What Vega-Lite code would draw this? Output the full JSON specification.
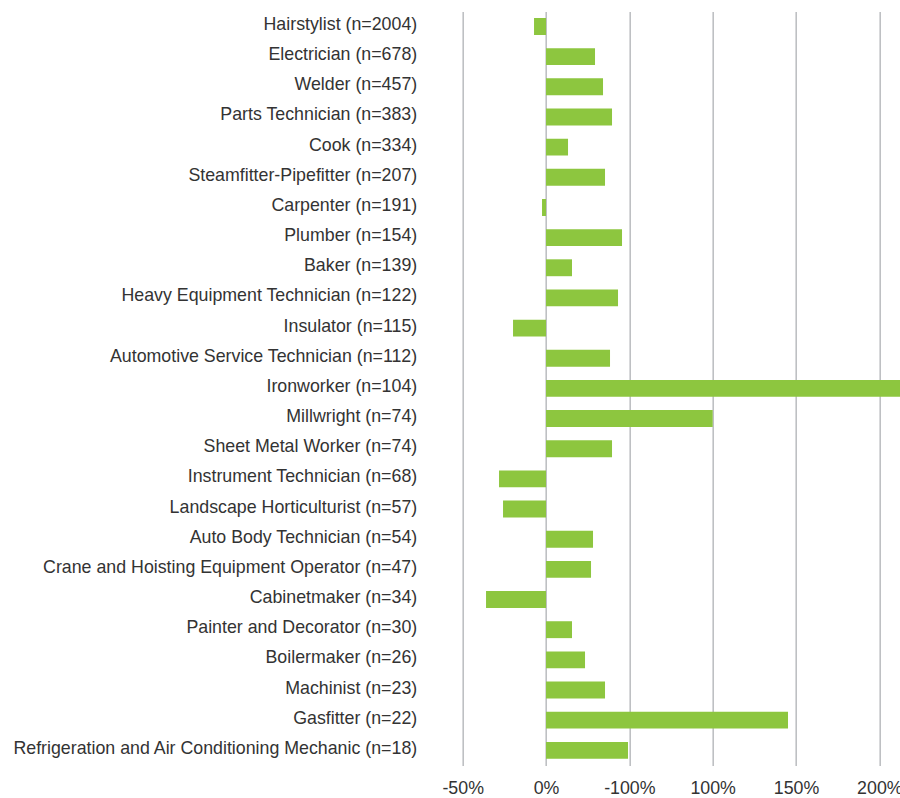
{
  "$schema": "https://vega.github.io/schema/vega-lite/v6.json",
  "width": 437.3,
  "height": 754,
  "autosize": {"type": "none"},
  "padding": {"left": 462.7, "top": 11.4, "right": 0, "bottom": 32.6},
  "background": "white",
  "config": {"view": {"stroke": null}},
  "data": {
    "values": [
      {"trade": "Hairstylist (n=2004)", "change": -7.2},
      {"trade": "Electrician (n=678)", "change": 29.4},
      {"trade": "Welder (n=457)", "change": 34.2},
      {"trade": "Parts Technician (n=383)", "change": 39.6},
      {"trade": "Cook (n=334)", "change": 13.2},
      {"trade": "Steamfitter-Pipefitter (n=207)", "change": 35.4},
      {"trade": "Carpenter (n=191)", "change": -2.4},
      {"trade": "Plumber (n=154)", "change": 45.6},
      {"trade": "Baker (n=139)", "change": 15.6},
      {"trade": "Heavy Equipment Technician (n=122)", "change": 43.2},
      {"trade": "Insulator (n=115)", "change": -19.8},
      {"trade": "Automotive Service Technician (n=112)", "change": 38.4},
      {"trade": "Ironworker (n=104)", "change": 215},
      {"trade": "Millwright (n=74)", "change": 100},
      {"trade": "Sheet Metal Worker (n=74)", "change": 39.6},
      {"trade": "Instrument Technician (n=68)", "change": -28.2},
      {"trade": "Landscape Horticulturist (n=57)", "change": -25.8},
      {"trade": "Auto Body Technician (n=54)", "change": 28.2},
      {"trade": "Crane and Hoisting Equipment Operator (n=47)", "change": 27},
      {"trade": "Cabinetmaker (n=34)", "change": -36},
      {"trade": "Painter and Decorator (n=30)", "change": 15.6},
      {"trade": "Boilermaker (n=26)", "change": 23.4},
      {"trade": "Machinist (n=23)", "change": 35.4},
      {"trade": "Gasfitter (n=22)", "change": 145.2},
      {"trade": "Refrigeration and Air Conditioning Mechanic (n=18)", "change": 49.2}
    ]
  },
  "mark": {"type": "bar", "color": "#8DC63F", "clip": true},
  "encoding": {
    "y": {
      "field": "trade",
      "type": "nominal",
      "sort": null,
      "title": null,
      "scale": {"paddingInner": 0.44, "paddingOuter": 0.22},
      "axis": {
        "ticks": false,
        "domain": false,
        "grid": false,
        "labelPadding": 46,
        "labelOffset": -1.5,
        "labelFont": "Liberation Sans",
        "labelFontSize": 17.8,
        "labelColor": "#333333",
        "labelLimit": 0
      }
    },
    "x": {
      "field": "change",
      "type": "quantitative",
      "title": null,
      "scale": {"domain": [-50, 212.4], "nice": false, "zero": false},
      "axis": {
        "values": [-50, 0, 50, 100, 150, 200],
        "labelExpr": "datum.value == 50 ? '-100%' : datum.value + '%'",
        "ticks": false,
        "domain": false,
        "grid": true,
        "gridColor": "#BEC0C3",
        "gridWidth": 1.6,
        "labelPadding": 14,
        "labelFont": "Liberation Sans",
        "labelFontSize": 17.8,
        "labelColor": "#333333",
        "labelFlush": false,
        "labelOverlap": false
      }
    }
  }
}
